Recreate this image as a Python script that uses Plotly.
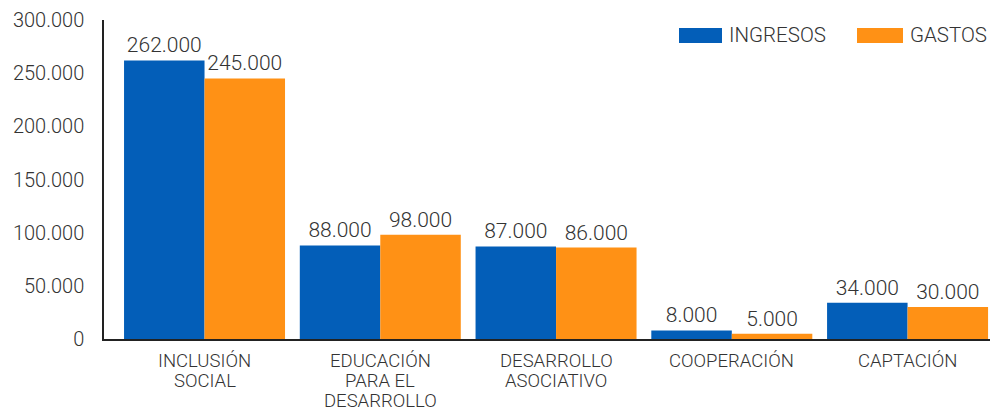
import plotly.graph_objects as go

categories = ["INCLUSIÓN<br>SOCIAL", "EDUCACIÓN<br>PARA EL<br>DESARROLLO",
              "DESARROLLO<br>ASOCIATIVO", "COOPERACIÓN", "CAPTACIÓN"]
ingresos = [262000, 88000, 87000, 8000, 34000]
gastos = [245000, 98000, 86000, 5000, 30000]
series_names = ["INGRESOS", "GASTOS"]
y_ticks = [0, 50000, 100000, 150000, 200000, 250000, 300000]

BLUE = "#035EB8"
ORANGE = "#FF9115"
TXT = "#333333"
FONT = dict(family="Roboto", weight=300, color=TXT)

fig = go.Figure()
for name, vals, col in zip(series_names, [ingresos, gastos], [BLUE, ORANGE]):
    fig.add_trace(go.Bar(
        x=categories, y=vals, name=name, marker_color=col, marker_line_width=0,
        texttemplate="%{y:,d}", textposition="outside", cliponaxis=False,
        textfont=dict(size=21, **FONT), hoverinfo="skip",
    ))

fig.update_layout(
    width=990, height=411,
    margin=dict(l=104, r=0, t=20, b=72),
    plot_bgcolor="white", paper_bgcolor="white",
    separators=",.",
    barmode="group", bargap=0.084, bargroupgap=0,
    showlegend=False,
    font=dict(size=18, **FONT),
)
fig.update_xaxes(
    range=[-0.572, 4.469], showline=True, linecolor="#222", linewidth=1.5,
    ticks="", showticklabels=False, fixedrange=True,
)
fig.update_yaxes(
    range=[0, 300000], tickvals=y_ticks, tickformat=",d",
    showline=True, linecolor="#222", linewidth=1.5, showgrid=False,
    zeroline=False, ticks="", ticklabelstandoff=14, fixedrange=True,
    tickfont=dict(size=20, **FONT),
)

# category labels (tighter line spacing than plotly's tick labels allow)
for cat in categories:
    for i, line in enumerate(cat.split("<br>")):
        fig.add_annotation(x=cat, xref="x", y=0, yref="paper", text=line,
                           showarrow=False, xanchor="center", yanchor="middle",
                           yshift=-(22 + 20 * i), font=dict(size=18.5, **FONT))

# legend swatches
W = 886
legend = [(679, 722, "INGRESOS", BLUE), (857, 903, "GASTOS", ORANGE)]
for x0, x1, label, col in legend:
    fig.add_shape(type="rect", xref="paper", yref="paper",
                  x0=(x0 - 104) / W, x1=(x1 - 104) / W,
                  y0=(339 - 43) / 319, y1=(339 - 28) / 319,
                  fillcolor=col, line_width=0)
    fig.add_annotation(xref="paper", yref="paper", x=(x1 + 5 - 104) / W,
                       y=(339 - 35) / 319, text=label, showarrow=False,
                       xanchor="left", yanchor="middle",
                       font=dict(size=20.5, **FONT))

fig.write_html("out.html", config={"displayModeBar": False},
               post_script="document.body.style.margin='0';")
